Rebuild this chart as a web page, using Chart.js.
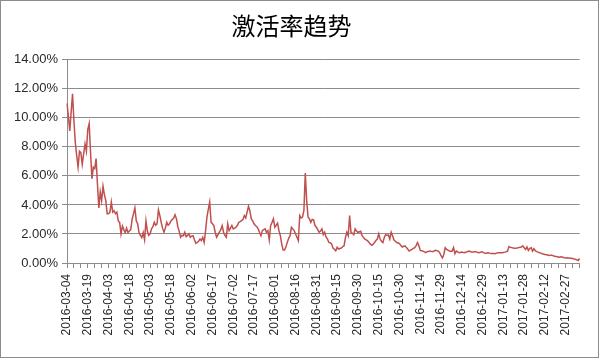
<!DOCTYPE html>
<html>
<head>
<meta charset="utf-8">
<script src="https://cdn.jsdelivr.net/npm/chart.js@4/dist/chart.umd.min.js"></script>
<style>
html,body{margin:0;padding:0;background:#fff;}
#wrap{width:600px;height:360px;}
</style>
</head>
<body>
<div id="wrap"><canvas id="c" width="600" height="360"></canvas></div>
<script>
const chartTitle = '激活率趋势';
const startDate = '2016-03-04';
const dayCount = 371;
const tickLabels = ['2016-03-04','2016-03-19','2016-04-03','2016-04-18','2016-05-03','2016-05-18','2016-06-02','2016-06-17','2016-07-02','2016-07-17','2016-08-01','2016-08-16','2016-08-31','2016-09-15','2016-09-30','2016-10-15','2016-10-30','2016-11-14','2016-11-29','2016-12-14','2016-12-29','2017-01-13','2017-01-28','2017-02-12','2017-02-27'];
const yTicks = [0, 2, 4, 6, 8, 10, 12, 14];
// activation rate, percent, one value per day
const rate = [
11.0, 10.1, 9.1, 10.4, 11.65, 9.8, 8.3, 7.4, 6.6, 7.7,
7.6, 6.8, 7.5, 8.2, 7.7, 9.2, 9.6, 7.6, 5.8, 6.6,
6.5, 7.2, 5.4, 3.8, 4.9, 4.3, 5.3, 4.7, 4.3, 3.4,
3.4, 3.5, 4.2, 3.5, 3.6, 3.4, 3.5, 2.9, 2.8, 2.0,
2.55, 2.3, 2.1, 2.4, 2.1, 2.2, 2.3, 3.0, 3.4, 3.8,
2.9, 2.7, 2.1, 1.9, 1.75, 2.1, 1.6, 2.9, 2.2, 1.9,
2.0, 2.35, 2.5, 2.8, 2.6, 2.7, 3.66, 3.27, 2.8, 2.4,
2.12, 2.4, 2.8, 2.6, 2.7, 2.9, 3.0, 3.1, 3.32, 3.04,
2.5, 2.18, 1.77, 1.9, 1.88, 2.12, 1.82, 1.9, 2.0, 1.77,
1.85, 1.88, 1.6, 1.35, 1.42, 1.5, 1.65, 1.54, 1.77, 1.42,
2.2, 3.16, 3.7, 4.2, 2.8, 2.7, 2.58, 2.1, 1.77, 1.95,
2.12, 2.3, 2.58, 2.12, 1.9, 1.77, 2.7, 2.23, 2.4, 2.58,
2.35, 2.4, 2.46, 2.6, 2.8, 2.85, 2.92, 3.0, 3.27, 3.1,
3.5, 3.9, 3.6, 3.04, 2.9, 2.7, 2.58, 2.5, 2.35, 2.1,
1.88, 2.23, 2.3, 2.35, 2.12, 2.23, 1.58, 2.58, 2.8, 3.04,
2.46, 2.6, 2.74, 2.23, 1.88, 1.31, 0.89, 0.89, 1.1, 1.42,
1.7, 1.88, 2.46, 2.35, 2.23, 2.0, 1.77, 1.54, 3.27, 3.1,
3.16, 3.62, 6.2, 4.3, 3.16, 3.04, 2.8, 3.0, 2.97, 2.58,
2.46, 2.3, 2.12, 2.2, 2.35, 1.95, 2.12, 1.8, 1.65, 1.42,
1.4, 1.31, 1.03, 0.95, 0.84, 1.08, 0.96, 1.0, 1.03, 1.12,
1.19, 1.77, 2.12, 1.88, 3.27, 2.12, 2.05, 1.95, 2.35, 2.2,
2.1, 2.15, 2.19, 1.88, 1.75, 1.65, 1.6, 1.53, 1.41, 1.3,
1.22, 1.3, 1.41, 1.55, 1.65, 2.0, 1.65, 1.5, 1.41, 1.76,
1.95, 1.9, 1.93, 1.65, 2.12, 1.88, 1.58, 1.5, 1.41, 1.38,
1.34, 1.2, 1.1, 1.15, 1.18, 1.06, 0.95, 0.82, 0.88, 0.94,
1.0, 1.06, 1.2, 1.41, 1.18, 0.87, 0.85, 0.82, 0.76, 0.71,
0.78, 0.8, 0.82, 0.8, 0.78, 0.83, 0.87, 0.85, 0.82, 0.71,
0.5, 0.35, 0.59, 1.06, 0.94, 0.88, 0.82, 0.8, 0.82, 1.06,
0.64, 0.82, 0.76, 0.71, 0.73, 0.75, 0.72, 0.71, 0.76, 0.78,
0.82, 0.79, 0.76, 0.75, 0.77, 0.78, 0.74, 0.71, 0.73, 0.75,
0.75, 0.7, 0.66, 0.69, 0.71, 0.68, 0.66, 0.66, 0.65, 0.64,
0.68, 0.71, 0.7, 0.71, 0.71, 0.73, 0.75, 0.78, 0.82, 1.13,
1.08, 1.06, 1.04, 1.02, 1.01, 1.04, 1.06, 1.08, 1.1, 1.18,
1.05, 0.94, 1.1, 0.87, 1.0, 1.06, 0.82, 0.99, 0.85, 0.78,
0.75, 0.71, 0.68, 0.64, 0.62, 0.59, 0.57, 0.55, 0.52, 0.53,
0.54, 0.5, 0.47, 0.45, 0.43, 0.4, 0.42, 0.43, 0.39, 0.36,
0.35, 0.36, 0.35, 0.33, 0.32, 0.31, 0.28, 0.26, 0.22, 0.17,
0.31
];

// category list: consecutive days starting at startDate
const categories = [];
{
  const d0 = new Date(startDate + 'T00:00:00Z');
  for (let i = 0; i < dayCount; i++) {
    const d = new Date(d0.getTime() + i * 86400000);
    categories.push(d.toISOString().slice(0, 10));
  }
}

const frame = {
  id: 'frame',
  afterDraw(chart) {
    const ctx = chart.ctx;
    ctx.save();
    ctx.strokeStyle = '#8c8c8c';
    ctx.lineWidth = 1;
    ctx.strokeRect(0.5, 0.5, 598, 357);
    ctx.restore();
  }
};

new Chart(document.getElementById('c'), {
  type: 'line',
  data: {
    labels: categories,
    datasets: [{
      data: rate.slice(0, dayCount),
      borderColor: '#c0504d',
      borderWidth: 1.5,
      pointRadius: 0,
      tension: 0,
      fill: false
    }]
  },
  options: {
    responsive: false,
    animation: false,
    events: [],
    layout: { padding: { left: 0, right: 17, top: 0, bottom: 2 } },
    plugins: {
      legend: { display: false },
      tooltip: { enabled: false },
      title: {
        display: true,
        text: chartTitle,
        color: '#000',
        font: { family: '"Noto Sans CJK SC", sans-serif', size: 24, weight: 'normal' },
        padding: { top: 11, bottom: 20 }
      }
    },
    scales: {
      x: {
        type: 'category',
        offset: false,
        afterFit(scale) { scale.height = 95; },
        border: { display: true, color: '#8c8c8c', width: 1 },
        grid: {
          display: true,
          drawOnChartArea: false,
          drawTicks: true,
          tickLength: 5,
          color: '#8c8c8c'
        },
        ticks: {
          autoSkip: false,
          minRotation: 90,
          maxRotation: 90,
          padding: 6,
          color: '#2a2a2a',
          font: { family: '"Liberation Sans", Arial, sans-serif', size: 12 },
          callback(value, index) {
            const lab = categories[index];
            if (tickLabels.includes(lab)) return lab;
            if (index % 5 === 0) return '';
            return null;
          }
        }
      },
      y: {
        min: yTicks[0],
        max: yTicks[yTicks.length - 1],
        afterFit(scale) { scale.width = 67; },
        afterBuildTicks(scale) { scale.ticks = yTicks.map(v => ({ value: v })); },
        border: { display: true, color: '#8c8c8c', width: 1 },
        grid: {
          color: '#8c8c8c',
          lineWidth: 1,
          drawTicks: true,
          tickLength: 5
        },
        ticks: {
          padding: 4,
          color: '#2a2a2a',
          font: { family: '"Liberation Sans", Arial, sans-serif', size: 13 },
          callback(v) { return Number(v).toFixed(2) + '%'; }
        }
      }
    }
  },
  plugins: [frame]
});
</script>
</body>
</html>
